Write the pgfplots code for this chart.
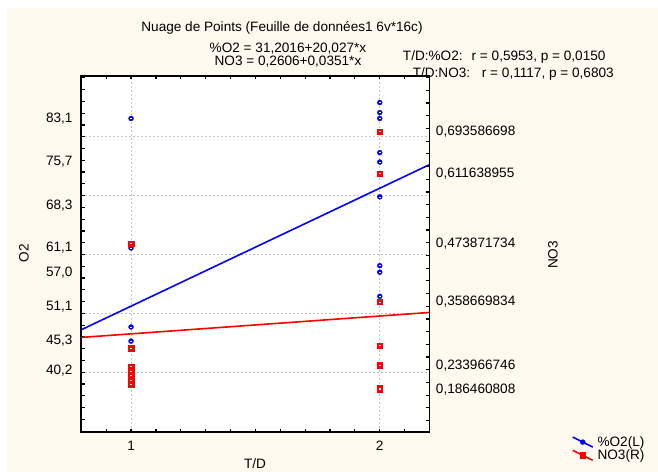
\documentclass[border=0pt]{standalone}
\usepackage{pgfplots}
\pgfplotsset{compat=1.18}
\usepackage{fontspec}
\setmainfont{Liberation Sans}

\definecolor{bgcream}{RGB}{255,250,240}
\definecolor{gridgray}{RGB}{195,195,195}
\definecolor{statblue}{RGB}{0,0,255}
\definecolor{statred}{RGB}{255,0,0}
\newcommand\lbl{\fontsize{10.2}{12}\selectfont}

\pgfplotstableread{
x  y
1  83.1
1  61.1
1  47.7
1  45.3
1  40.8
1  40.2
1  40.4
2  85.8
2  84.1
2  83.1
2  77.3
2  75.7
2  69.8
2  58.1
2  57.0
2  52.9
}\oxygen

\pgfplotstableread{
x  y
1  0.473871734
1  0.2678
1  0.2310
1  0.2226
1  0.2141
1  0.2048
1  0.1970
2  0.693586698
2  0.611638955
2  0.358669834
2  0.2723
2  0.233966746
2  0.1895
2  0.186460808
}\nitrate

\pgfplotsset{
  statframe/.style={
    at={(60.975pt,-324pt)}, anchor=south west,
    scale only axis, width=261.15pt, height=267pt,
    xmin=0.8, xmax=2.2,
    axis line style={line width=1.2pt},
    tick align=inside, major tick length=2.5pt, minor tick length=2.5pt,
    tick style={black, line width=0.9pt},
    ticklabel style={font=\lbl, inner sep=0pt},
  },
  bluemark/.style={mark=*, mark size=1.9pt,
    mark options={draw=statblue, fill=statblue, line width=0.2pt}},
  redmark/.style={mark=square*, mark size=2.0pt,
    mark options={draw=statred, fill=statred, line width=0.2pt}},
  % small white dash drawn over each case mark
  casedash/.style={only marks, mark=-, mark size=0.6pt,
    mark options={draw=white, line width=0.4pt}},
}

\begin{document}
\begin{tikzpicture}
\begin{scope}[x=0.75pt, y=-0.75pt, every node/.style={inner sep=0pt, font=\lbl}]
  \path[use as bounding box] (0,0) rectangle (658,472);
  \fill[white] (0,0) rectangle (658,472);
  \fill[bgcream] (7,8) rectangle (658,472);
  \node[anchor=base] at (282,31) {Nuage de Points (Feuille de données1 6v*16c)};
  \node[anchor=base] at (288,52.7) {\%O2 = 31,2016+20,027*x};
  \node[anchor=base] at (288,65) {NO3 = 0,2606+0,0351*x};
  \node[anchor=base west] at (402.7,60.7) {T/D:\%O2:\hspace{6.75pt}r = 0,5953, p = 0,0150};
  \node[anchor=base west] at (412.5,77.7) {T/D:NO3:\hspace{8.8pt}r = 0,1117, p = 0,6803};
  \node[rotate=90] at (24,253) {O2};
  \node[rotate=90] at (553,255) {NO3};
  \node[anchor=base] at (255,468) {T/D};
\end{scope}

% left axis: O2
\begin{axis}[
  statframe,
  ymin=29.86, ymax=90.31,
  axis background/.style={fill=white},
  xtick={1,2}, xticklabels={1,2},
  minor xtick={0.8,0.9,1.1,1.2,1.3,1.4,1.5,1.6,1.7,1.8,1.9,2.1,2.2},
  xmajorgrids, ymajorgrids,
  ytick={40,50,60,70,80}, yticklabels={},
  minor ytick={30,32,...,90},
  ytick pos=left,
  extra y ticks={40.2,45.3,51.1,57.0,61.1,68.3,75.7,83.1},
  extra y tick labels={{40,2},{45,3},{51,1},{57,0},{61,1},{68,3},{75,7},{83,1}},
  extra y tick style={major tick length=0pt, grid=none},
  major grid style={gridgray, dash pattern=on 1.5pt off 1.5pt, line width=0.6pt},
  yticklabel style={xshift=-6.4pt},
  xticklabel style={yshift=-6.4pt},
]
  \addplot[statblue, line width=1.2pt] coordinates {(0.8,47.2232) (2.2,75.2610)};
  \addplot[only marks, bluemark] table[x=x, y=y] {\oxygen};
  \addplot[casedash] table[x=x, y=y] {\oxygen};
\end{axis}

% right axis: NO3
\begin{axis}[
  statframe,
  ymin=0.1025, ymax=0.8032,
  xtick=\empty,
  ytick pos=right, yticklabel pos=right,
  ytick={0.186460808,0.233966746,0.358669834,0.473871734,0.611638955,0.693586698},
  yticklabels={{0,186460808},{0,233966746},{0,358669834},{0,473871734},{0,611638955},{0,693586698}},
  major tick length=0pt,
  minor ytick={0.1,0.125,0.15,0.175,0.2,0.225,0.25,0.275,0.3,0.325,0.35,0.375,0.4,0.425,0.45,0.475,0.5,0.525,0.55,0.575,0.6,0.625,0.65,0.675,0.7,0.725,0.75,0.775,0.8},
  yticklabel style={xshift=4.65pt},
  legend style={at={(1.4084,-0.0469)}, anchor=west, draw=none, fill=none,
    font=\lbl, inner sep=0pt, column sep=2.5pt, row sep=0pt,
    nodes={inner sep=0.5pt}},
  legend cell align=left,
  legend image code/.code={%
    \draw[mark repeat=2, mark phase=2, #1] plot coordinates {(0pt,3.75pt) (7.5pt,0pt) (15pt,-3.75pt)};},
]
  \addplot[statred, line width=1.2pt, forget plot] coordinates {(0.8,0.28868) (2.2,0.33782)};
  \addplot[only marks, redmark, forget plot] table[x=x, y=y] {\nitrate};
  \addplot[casedash, forget plot] table[x=x, y=y] {\nitrate};
  \addlegendimage{statblue, line width=1.2pt, bluemark}
  \addlegendentry{\%O2(L)}
  \addlegendimage{statred, line width=1.2pt, redmark}
  \addlegendentry{NO3(R)}
\end{axis}
\end{tikzpicture}
\end{document}
